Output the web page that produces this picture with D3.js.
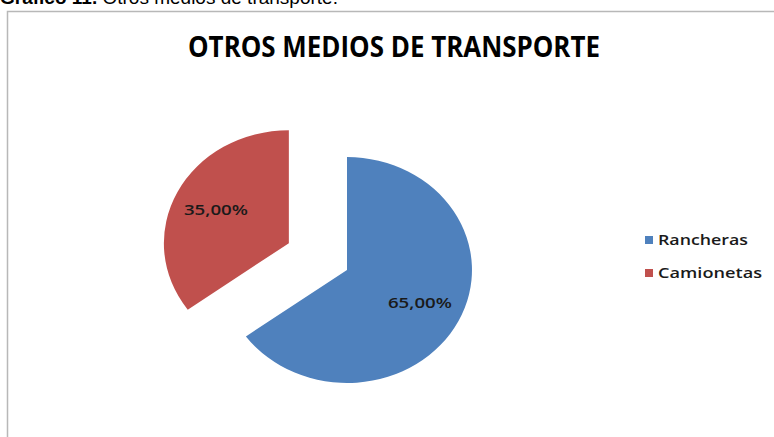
<!DOCTYPE html>
<html>
<head>
<meta charset="utf-8">
<script src="https://cdn.jsdelivr.net/npm/d3@7"></script>
<style>
  body { margin: 0; background: #fff; }
  svg { display: block; }
</style>
</head>
<body>
<div class="chart"></div>
<script>
// data
const categories = ["Rancheras", "Camionetas"];
const values = [65, 35];
const labels = ["65,00%", "35,00%"];
const colors = ["#4f81bd", "#c0504d"];

const W = 774, H = 437;

const svg = d3.select(".chart")
  .append("svg")
  .attr("width", W)
  .attr("height", H);

// caption above the chart (cut off at the top)
const cap = svg.append("text")
  .attr("x", 0)
  .attr("y", 4)
  .attr("font-family", "Liberation Sans, Arial, sans-serif")
  .attr("font-size", 19);
cap.append("tspan").attr("font-weight", "bold").text("Gráfico 11. ");
cap.append("tspan").text("Otros medios de transporte.");

// chart border
svg.append("rect")
  .attr("x", 7.5)
  .attr("y", 11.5)
  .attr("width", W + 20)
  .attr("height", H + 20)
  .attr("fill", "none")
  .attr("stroke", "#b8b8b8")
  .attr("stroke-width", 1.5);

// title
svg.append("text")
  .attr("x", 394)
  .attr("y", 57)
  .attr("text-anchor", "middle")
  .attr("font-family", "Open Sans, sans-serif")
  .attr("font-weight", "bold")
  .attr("font-size", 29)
  .attr("textLength", 412)
  .attr("lengthAdjust", "spacingAndGlyphs")
  .attr("fill", "#000")
  .text("OTROS MEDIOS DE TRANSPORTE");

// PIE
const cx = 347, cy = 270, r = 113, sx = 1.106, explode = 59, labelR = 74;

const pie = d3.pie().sort(null).value(d => d.value);
const data = categories.map((c, i) => ({ name: c, value: values[i], label: labels[i], color: colors[i] }));
const arcs = pie(data);

const arc = d3.arc().innerRadius(0).outerRadius(r);
const labelArc = d3.arc().innerRadius(labelR).outerRadius(labelR);

function offset(d, i) {
  // only the second slice is pulled out
  if (i === 0) return [0, 0];
  const mid = (d.startAngle + d.endAngle) / 2;
  return [Math.sin(mid) * explode, -Math.cos(mid) * explode];
}

const pieG = svg.append("g")
  .attr("transform", "translate(" + cx + "," + cy + ") scale(" + sx + ",1)");

pieG.selectAll(".slice")
  .data(arcs)
  .enter()
  .append("path")
  .attr("class", "slice")
  .attr("transform", (d, i) => "translate(" + offset(d, i) + ")")
  .attr("d", arc)
  .attr("fill", d => d.data.color);

svg.selectAll(".lbl")
  .data(arcs)
  .enter()
  .append("text")
  .attr("class", "lbl")
  .attr("x", (d, i) => cx + (labelArc.centroid(d)[0] + offset(d, i)[0]) * sx)
  .attr("y", (d, i) => cy + labelArc.centroid(d)[1] + offset(d, i)[1])
  .attr("dy", "0.35em")
  .attr("text-anchor", "middle")
  .attr("font-family", "Open Sans, sans-serif")
  .attr("font-weight", "600")
  .attr("font-size", 14)
  .attr("textLength", 64)
  .attr("lengthAdjust", "spacingAndGlyphs")
  .attr("fill", "#1a1a1a")
  .text(d => d.data.label);

// legend
const legend = svg.append("g").attr("transform", "translate(645,240)");
const item = legend.selectAll(".item")
  .data(data)
  .enter()
  .append("g")
  .attr("class", "item")
  .attr("transform", (d, i) => "translate(0," + i * 33 + ")");

item.append("rect")
  .attr("x", 0)
  .attr("y", -4)
  .attr("width", 8)
  .attr("height", 8)
  .attr("fill", d => d.color);

item.append("text")
  .attr("x", 13)
  .attr("dy", "0.35em")
  .attr("font-family", "Open Sans, sans-serif")
  .attr("font-weight", "600")
  .attr("font-size", 14)
  .attr("textLength", (d, i) => i === 0 ? 90 : 104)
  .attr("lengthAdjust", "spacingAndGlyphs")
  .attr("fill", "#1a1a1a")
  .text(d => d.name);
</script>
</body>
</html>
